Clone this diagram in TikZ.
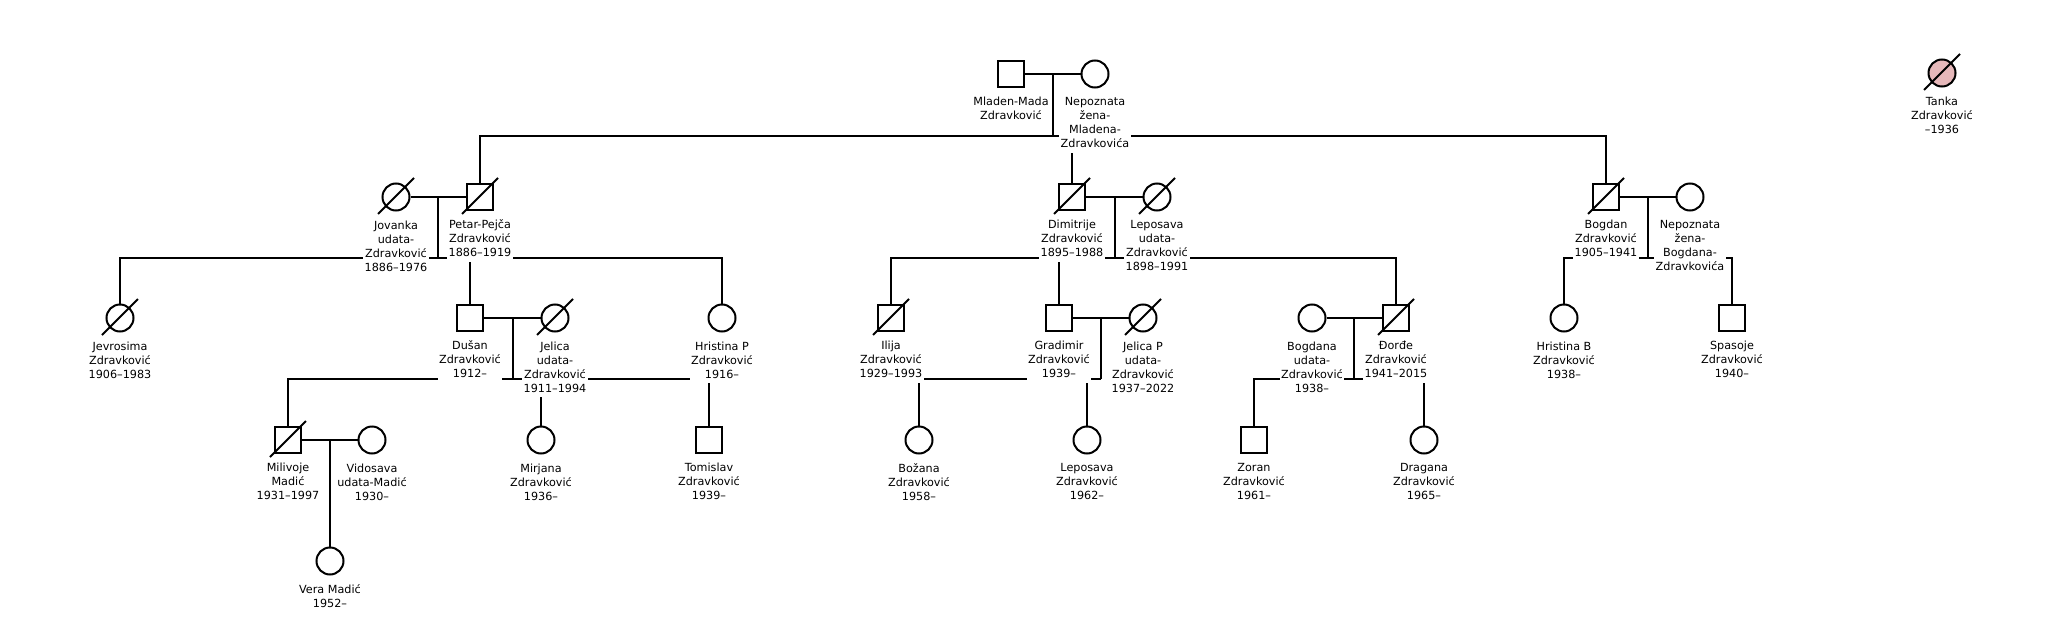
\documentclass[tikz,border=0pt]{standalone}
\usepackage{fontspec}
\setmainfont{DejaVu Sans}
\definecolor{tankapink}{RGB}{230,184,186}
\begin{document}
\begin{tikzpicture}[x=1pt,y=-1pt,line width=2pt,
  male/.style={draw,rectangle,minimum size=26pt,inner sep=0pt,fill=white},
  fem/.style={draw,circle,minimum size=27pt,inner sep=0pt,fill=white},
  lbl/.style={fill=white,align=center,inner xsep=1.5pt,inner ysep=1pt,anchor=north,yshift=-7pt,
    font=\fontsize{11.2}{14}\selectfont,execute at begin node=\strut,execute at end node=\strut},
  slash/.style={line width=2pt}]
\useasboundingbox (0,0) rectangle (2062,637);
% generation 1
\node[male] (mladen) at (1011,74) {};
\node[fem] (nepozM) at (1095,74) {};
\node[fem,fill=tankapink] (tanka) at (1942,73) {};
% generation 2
\node[fem] (jovanka) at (396,197) {};
\node[male] (petar) at (480,197) {};
\node[male] (dimitrije) at (1072,197) {};
\node[fem] (leposava) at (1157,197) {};
\node[male] (bogdan) at (1606,197) {};
\node[fem] (nepozB) at (1690,197) {};
% generation 3
\node[fem] (jevrosima) at (120,318) {};
\node[male] (dusan) at (470,318) {};
\node[fem] (jelica) at (555,318) {};
\node[fem] (hristinaP) at (722,318) {};
\node[male] (ilija) at (891,318) {};
\node[male] (gradimir) at (1059,318) {};
\node[fem] (jelicaP) at (1143,318) {};
\node[fem] (bogdana) at (1312,318) {};
\node[male] (djordje) at (1396,318) {};
\node[fem] (hristinaB) at (1564,318) {};
\node[male] (spasoje) at (1732,318) {};
% generation 4
\node[male] (milivoje) at (288,440) {};
\node[fem] (vidosava) at (372,440) {};
\node[fem] (mirjana) at (541,440) {};
\node[male] (tomislav) at (709,440) {};
\node[fem] (bozana) at (919,440) {};
\node[fem] (leposavaD) at (1087,440) {};
\node[male] (zoran) at (1254,440) {};
\node[fem] (dragana) at (1424,440) {};
% generation 5
\node[fem] (vera) at (330,561) {};
% union and sibling-line points
\coordinate (u1) at (1053,74);  \coordinate (s1) at (1053,136);
\coordinate (u2) at (438,197);  \coordinate (s2) at (438,258);
\coordinate (u3) at (1115,197); \coordinate (s3) at (1115,258);
\coordinate (u4) at (1648,197); \coordinate (s4) at (1648,258);
\coordinate (u5) at (513,318);  \coordinate (s5) at (513,379);
\coordinate (u6) at (1101,318); \coordinate (s6) at (1101,379);
\coordinate (u7) at (1354,318); \coordinate (s7) at (1354,379);
\coordinate (u8) at (330,440);
% connectors
\draw (mladen) -- (nepozM);
\draw (u1) -- (s1);
\draw (petar.north) |- (s1) -| (bogdan.north);
\draw (dimitrije.north) -- (dimitrije.north |- s1);
\draw (jovanka) -- (petar);
\draw (u2) -- (s2);
\draw (jevrosima.north) |- (s2) -| (hristinaP.north);
\draw (dusan.north) -- (dusan.north |- s2);
\draw (dimitrije) -- (leposava);
\draw (u3) -- (s3);
\draw (ilija.north) |- (s3) -| (djordje.north);
\draw (gradimir.north) -- (gradimir.north |- s3);
\draw (bogdan) -- (nepozB);
\draw (u4) -- (s4);
\draw (hristinaB.north) |- (s4) -| (spasoje.north);
\draw (dusan) -- (jelica);
\draw (u5) -- (s5);
\draw (milivoje.north) |- (s5) -| (tomislav.north);
\draw (mirjana.north) -- (mirjana.north |- s5);
\draw (gradimir) -- (jelicaP);
\draw (u6) -- (s6);
\draw (bozana.north) |- (s6);
\draw (leposavaD.north) -- (leposavaD.north |- s6);
\draw (bogdana) -- (djordje);
\draw (u7) -- (s7);
\draw (zoran.north) |- (s7) -| (dragana.north);
\draw (milivoje) -- (vidosava);
\draw (u8) -- (vera.north);
% labels
\node[lbl] (mladen-l) at (mladen.south) {Mladen-Mada\\Zdravković};
\node[lbl] (nepozM-l) at (nepozM.south) {Nepoznata\\žena-\\Mladena-\\Zdravkovića};
\node[lbl] (tanka-l) at (tanka.south) {Tanka\\Zdravković\\–1936};
\node[lbl] (jovanka-l) at (jovanka.south) {Jovanka\\udata-\\Zdravković\\1886–1976};
\node[lbl] (petar-l) at (petar.south) {Petar-Pejča\\Zdravković\\1886–1919};
\node[lbl] (dimitrije-l) at (dimitrije.south) {Dimitrije\\Zdravković\\1895–1988};
\node[lbl] (leposava-l) at (leposava.south) {Leposava\\udata-\\Zdravković\\1898–1991};
\node[lbl] (bogdan-l) at (bogdan.south) {Bogdan\\Zdravković\\1905–1941};
\node[lbl] (nepozB-l) at (nepozB.south) {Nepoznata\\žena-\\Bogdana-\\Zdravkovića};
\node[lbl] (jevrosima-l) at (jevrosima.south) {Jevrosima\\Zdravković\\1906–1983};
\node[lbl] (dusan-l) at (dusan.south) {Dušan\\Zdravković\\1912–};
\node[lbl] (jelica-l) at (jelica.south) {Jelica\\udata-\\Zdravković\\1911–1994};
\node[lbl] (hristinaP-l) at (hristinaP.south) {Hristina P\\Zdravković\\1916–};
\node[lbl] (ilija-l) at (ilija.south) {Ilija\\Zdravković\\1929–1993};
\node[lbl] (gradimir-l) at (gradimir.south) {Gradimir\\Zdravković\\1939–};
\node[lbl] (jelicaP-l) at (jelicaP.south) {Jelica P\\udata-\\Zdravković\\1937–2022};
\node[lbl] (bogdana-l) at (bogdana.south) {Bogdana\\udata-\\Zdravković\\1938–};
\node[lbl] (djordje-l) at (djordje.south) {Đorđe\\Zdravković\\1941–2015};
\node[lbl] (hristinaB-l) at (hristinaB.south) {Hristina B\\Zdravković\\1938–};
\node[lbl] (spasoje-l) at (spasoje.south) {Spasoje\\Zdravković\\1940–};
\node[lbl] (milivoje-l) at (milivoje.south) {Milivoje\\Madić\\1931–1997};
\node[lbl] (vidosava-l) at (vidosava.south) {Vidosava\\udata-Madić\\1930–};
\node[lbl] (mirjana-l) at (mirjana.south) {Mirjana\\Zdravković\\1936–};
\node[lbl] (tomislav-l) at (tomislav.south) {Tomislav\\Zdravković\\1939–};
\node[lbl] (bozana-l) at (bozana.south) {Božana\\Zdravković\\1958–};
\node[lbl] (leposavaD-l) at (leposavaD.south) {Leposava\\Zdravković\\1962–};
\node[lbl] (zoran-l) at (zoran.south) {Zoran\\Zdravković\\1961–};
\node[lbl] (dragana-l) at (dragana.south) {Dragana\\Zdravković\\1965–};
\node[lbl] (vera-l) at (vera.south) {Vera Madić\\1952–};
% deceased marks
\foreach \p in {tanka,jovanka,petar,dimitrije,leposava,bogdan,jevrosima,jelica,ilija,jelicaP,djordje,milivoje}
  \draw[slash] ([shift={(-18,17)}]\p.center) -- ([shift={(18,-19)}]\p.center);
\end{tikzpicture}
\end{document}
